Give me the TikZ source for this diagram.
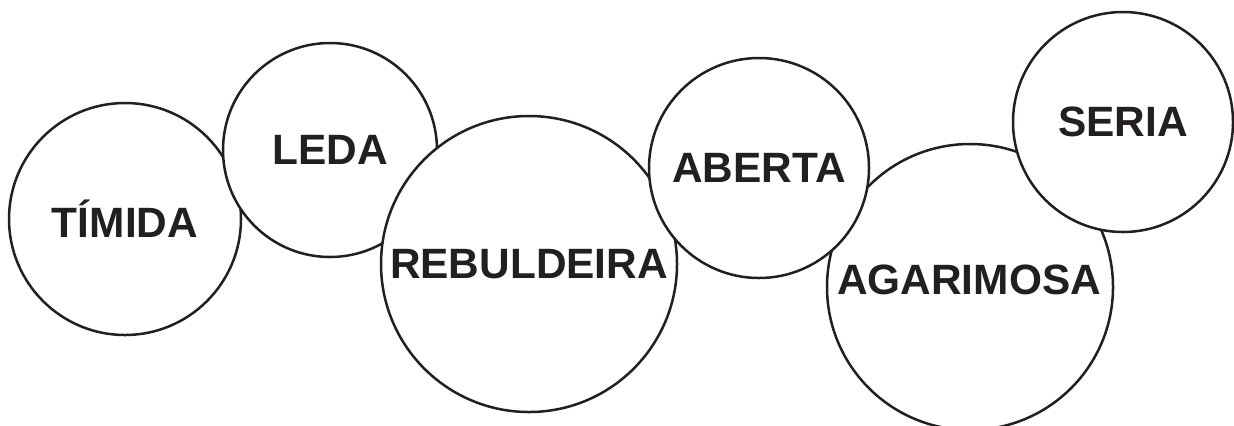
\documentclass[tikz,border=0pt]{standalone}
\usepackage{fontspec}
\setmainfont{Liberation Sans}
\definecolor{ink}{HTML}{231F20}
\tikzset{
  word/.style={text=ink, font=\fontsize{21.2}{25}\selectfont\bfseries},
  bubble/.style={circle, draw=ink, fill=white, line width=1.25pt, inner sep=0pt, word}
}
\begin{document}
\begin{tikzpicture}[x=0.5pt, y=-0.5pt]
  \useasboundingbox (0, 0) rectangle (1234, 425);

  % drawn back to front, so later bubbles hide earlier ones
  \node[bubble, minimum size=116pt] (timida) at (125, 219) {TÍMIDA};
  \node[bubble, minimum size=107pt] (leda) at (330, 150) {LEDA};
  \node[bubble, minimum size=148pt] (rebuldeira) at (529, 264) {REBULDEIRA};
  \node[bubble, minimum size=143pt] (agarimosa) at (970, 287) {};
  \node[bubble, minimum size=110pt] (aberta) at (759, 168) {ABERTA};
  \node[bubble, minimum size=110pt] (seria) at (1123, 122) {SERIA};

  \node[word] (agarimosatext) at (969, 280) {AGARIMOSA};
\end{tikzpicture}
\end{document}
